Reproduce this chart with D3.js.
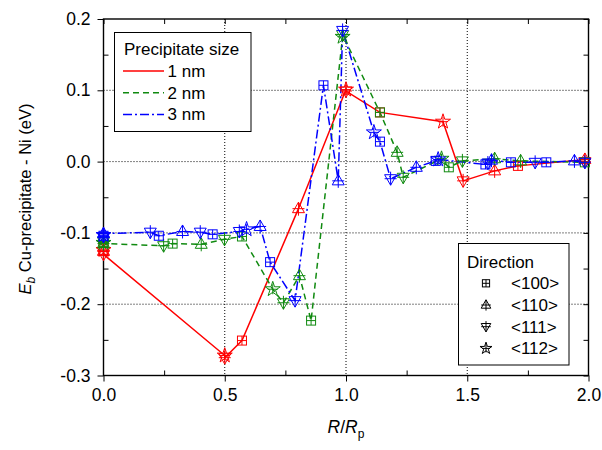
<!DOCTYPE html>
<html><head><meta charset="utf-8">
<script src="https://cdn.jsdelivr.net/npm/d3@7"></script>
<style>
html,body{margin:0;padding:0;background:#fff;}
svg{display:block;font-family:"Liberation Sans",Arial,Helvetica,sans-serif;}
</style></head>
<body><svg id="c" width="602" height="450"></svg>
<script>
// ---------- data ----------
const sizeLabels = ["1 nm", "2 nm", "3 nm"];
const directionLabels = ["<100>", "<110>", "<111>", "<112>"];
const xTicks = [0, 0.5, 1.0, 1.5, 2.0];
const yTicks = [-0.3, -0.2, -0.1, 0.0, 0.1, 0.2];

// 1 nm
const x1nm = [0, 0, 0, 0, 0.5, 0.5, 0.571, 0.804, 1.0, 1.0, 1.14, 1.40, 1.483, 1.613, 1.709, 1.985, 1.985];
const y1nm = [-0.120, -0.124, -0.126, -0.130, -0.272, -0.275, -0.251, -0.066, 0.101, 0.099, 0.069, 0.056, -0.027, -0.013, -0.006, 0.003, 0.0];
const d1nm = ["<100>", "<112>", "<110>", "<111>", "<112>", "<111>", "<100>", "<110>", "<112>", "<111>", "<100>", "<112>", "<111>", "<110>", "<100>", "<110>", "<111>"];

// 2 nm
const x2nm = [0, 0, 0, 0, 0.248, 0.285, 0.403, 0.499, 0.571, 0.698, 0.742, 0.808, 0.856, 0.986, 0.986, 1.14, 1.211, 1.236, 1.394, 1.424, 1.48, 1.613, 1.72, 1.985];
const y2nm = [-0.112, -0.113, -0.114, -0.115, -0.118, -0.115, -0.116, -0.109, -0.105, -0.179, -0.198, -0.160, -0.223, 0.175, 0.178, 0.069, 0.013, -0.022, 0.004, -0.008, 0.001, 0.004, 0.001, -0.001];
const d2nm = ["<111>", "<100>", "<112>", "<110>", "<111>", "<100>", "<110>", "<111>", "<100>", "<112>", "<111>", "<110>", "<100>", "<112>", "<111>", "<100>", "<110>", "<111>", "<112>", "<100>", "<111>", "<110>", "<110>", "<100>"];

// 3 nm
const x3nm = [0, 0, 0, 0, 0.193, 0.228, 0.326, 0.399, 0.45, 0.56, 0.59, 0.646, 0.687, 0.79, 0.907, 0.968, 0.986, 1.115, 1.14, 1.184, 1.29, 1.37, 1.38, 1.575, 1.585, 1.60, 1.68, 1.78, 1.826, 1.942, 1.985];
const y3nm = [-0.105, -0.104, -0.103, -0.101, -0.099, -0.104, -0.098, -0.099, -0.102, -0.098, -0.095, -0.091, -0.141, -0.195, 0.107, -0.027, 0.184, 0.041, 0.028, -0.024, -0.008, 0.001, 0.003, -0.004, -0.002, 0.002, -0.001, -0.001, -0.001, 0.001, -0.001];
const d3nm = ["<111>", "<100>", "<112>", "<110>", "<111>", "<100>", "<110>", "<111>", "<100>", "<111>", "<112>", "<110>", "<100>", "<111>", "<100>", "<110>", "<111>", "<112>", "<100>", "<111>", "<110>", "<100>", "<112>", "<100>", "<111>", "<110>", "<100>", "<111>", "<100>", "<110>", "<111>"];

const seriesColors = ["#ff0000", "#108a10", "#0000ff"];
const seriesDash = ["none", "6,4", "9,3,2,3"];

// ---------- chart ----------
const svg = d3.select("#c");
const L = 103.5, R = 588.5, T = 19, B = 375.5;
const x = d3.scaleLinear().domain([0, 2]).range([L, R]);
const y = d3.scaleLinear().domain([-0.3, 0.2]).range([B, T]);
const FS = 17.5;

// grid
const grid = svg.append("g").attr("stroke", "#000").attr("stroke-width", 1).attr("stroke-dasharray", "1,2");
[0.5, 1.0, 1.5].forEach(v => grid.append("line").attr("x1", x(v)).attr("x2", x(v)).attr("y1", T).attr("y2", B));
[-0.2, -0.1, 0.0, 0.1].forEach(v => grid.append("line").attr("x1", L).attr("x2", R).attr("y1", y(v)).attr("y2", y(v)));

// axes
const fmt = d => d.toFixed(1);
const xMinor = [0.25, 0.75, 1.25, 1.75];
const yMinor = [-0.25, -0.15, -0.05, 0.05, 0.15];
function styleAxis(g) {
  g.select(".domain").remove();
  g.selectAll("line").attr("stroke", "#000").attr("stroke-width", 1);
  g.selectAll("text").attr("font-size", FS).attr("fill", "#000").attr("font-family", "Liberation Sans, Arial, sans-serif");
}
svg.append("g").attr("transform", `translate(0,${B})`)
  .call(d3.axisBottom(x).tickValues(xTicks).tickSize(6).tickPadding(7).tickFormat(fmt)).call(styleAxis);
svg.append("g").attr("transform", `translate(0,${B})`)
  .call(d3.axisBottom(x).tickValues(xMinor).tickSize(-5).tickFormat("")).call(styleAxis);
svg.append("g").attr("transform", `translate(0,${T})`)
  .call(d3.axisTop(x).tickValues(xTicks.concat(xMinor)).tickSize(-5).tickFormat("")).call(styleAxis);
svg.append("g").attr("transform", `translate(${L},0)`)
  .call(d3.axisLeft(y).tickValues(yTicks).tickSize(6).tickPadding(7).tickFormat(fmt)).call(styleAxis);
svg.append("g").attr("transform", `translate(${L},0)`)
  .call(d3.axisLeft(y).tickValues(yMinor).tickSize(-5).tickFormat("")).call(styleAxis);
svg.append("g").attr("transform", `translate(${R},0)`)
  .call(d3.axisRight(y).tickValues(yTicks.concat(yMinor)).tickSize(-5).tickFormat("")).call(styleAxis);

svg.append("rect").attr("x", L).attr("y", T).attr("width", R - L).attr("height", B - T)
  .attr("fill", "none").attr("stroke", "#000").attr("stroke-width", 1.4);

// axis titles
const xt = svg.append("text").attr("x", 346).attr("y", 433).attr("text-anchor", "middle").attr("font-size", FS);
xt.append("tspan").attr("font-style", "italic").text("R");
xt.append("tspan").text("/");
xt.append("tspan").attr("font-style", "italic").text("R");
xt.append("tspan").attr("font-size", 12).attr("dy", 5).text("p");

const yt = svg.append("text").attr("transform", "translate(31,199) rotate(-90)").attr("text-anchor", "middle").attr("font-size", 16.5);
yt.append("tspan").attr("font-style", "italic").text("E");
yt.append("tspan").attr("font-style", "italic").attr("font-size", 12).attr("dy", 4).text("b");
yt.append("tspan").attr("dy", -4).text(" Cu-precipitate - Ni (eV)");

// markers
function marker(g, dir, k) {
  if (dir === "<100>") {
    g.append("rect").attr("x", -4.5 * k).attr("y", -4.5 * k).attr("width", 9 * k).attr("height", 9 * k);
    g.append("path").attr("d", `M${-4.5 * k},0H${4.5 * k}M0,${-4.5 * k}V${4.5 * k}`);
  } else if (dir === "<110>") {
    g.append("path").attr("d", `M0,${-6.5 * k}L${6 * k},${4 * k}L${-6 * k},${4 * k}Z`);
    g.append("path").attr("d", `M${-6 * k},0H${6 * k}M0,${-6.5 * k}V${7 * k}`);
  } else if (dir === "<111>") {
    g.append("path").attr("d", `M0,${6.5 * k}L${6 * k},${-4 * k}L${-6 * k},${-4 * k}Z`);
    g.append("path").attr("d", `M${-6 * k},0H${6 * k}M0,${-7 * k}V${6.5 * k}`);
  } else {
    g.append("path").attr("d", d3.symbol(d3.symbolStar, 70 * k * k)());
    g.append("path").attr("d", `M${-5 * k},0H${5 * k}M0,${-5 * k}V${5 * k}`);
  }
}

const allX = [x1nm, x2nm, x3nm], allY = [y1nm, y2nm, y3nm], allD = [d1nm, d2nm, d3nm];
const line = d3.line().x(d => x(d[0])).y(d => y(d[1]));
const plot = svg.append("g");
[0, 1, 2].forEach(i => {
  const pts = allX[i].map((v, j) => [v, allY[i][j], allD[i][j]]);
  plot.append("path").datum(pts).attr("d", line)
    .attr("fill", "none").attr("stroke", seriesColors[i]).attr("stroke-width", 1.5)
    .attr("stroke-dasharray", seriesDash[i]);
});
[0, 1, 2].forEach(i => {
  const pts = allX[i].map((v, j) => [v, allY[i][j], allD[i][j]]);
  pts.forEach(p => {
    const g = plot.append("g").attr("transform", `translate(${x(p[0])},${y(p[1])})`)
      .attr("fill", "none").attr("stroke", seriesColors[i]).attr("stroke-width", 1);
    marker(g, p[2], 1);
  });
});

// legend: sizes
const lg1 = svg.append("g");
lg1.append("rect").attr("x", 114.5).attr("y", 32.5).attr("width", 136.5).attr("height", 99)
  .attr("fill", "#fff").attr("stroke", "#000").attr("stroke-width", 1);
lg1.append("text").attr("x", 124).attr("y", 54.5).attr("font-size", 17).text("Precipitate size");
sizeLabels.forEach((s, i) => {
  const yy = 71 + i * 21.7;
  lg1.append("line").attr("x1", 123).attr("x2", 164).attr("y1", yy).attr("y2", yy)
    .attr("stroke", seriesColors[i]).attr("stroke-width", 1.5).attr("stroke-dasharray", seriesDash[i]);
  lg1.append("text").attr("x", 167.5).attr("y", yy + 6).attr("font-size", 17).text(s);
});

// legend: directions
const lg2 = svg.append("g");
lg2.append("rect").attr("x", 458.5).attr("y", 243.5).attr("width", 110.5).attr("height", 121.5)
  .attr("fill", "#fff").attr("stroke", "#000").attr("stroke-width", 1);
lg2.append("text").attr("x", 467).attr("y", 267.5).attr("font-size", 17).text("Direction");
directionLabels.forEach((s, i) => {
  const yy = 283.3 + i * 21.7;
  const g = lg2.append("g").attr("transform", `translate(486,${yy})`).attr("fill", "none").attr("stroke", "#000").attr("stroke-width", 1);
  marker(g, s, 0.8);
  lg2.append("text").attr("x", 511).attr("y", yy + 6).attr("font-size", 17).text(s);
});
</script></body></html>
